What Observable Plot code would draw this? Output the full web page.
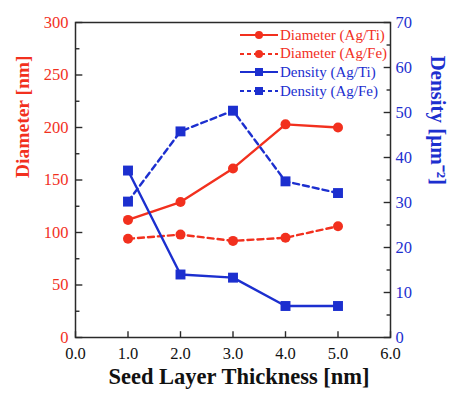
<!DOCTYPE html>
<html><head><meta charset="utf-8">
<script src="https://cdn.jsdelivr.net/npm/d3@7"></script>
<script src="https://cdn.jsdelivr.net/npm/@observablehq/plot@0.6"></script>
<style>
body{margin:0;background:#fff}
#wrap{position:relative;width:449px;height:397px;font-family:"Liberation Serif","Times New Roman",serif}
svg text{font-family:"Liberation Serif","Times New Roman",serif !important}
#legend{position:absolute;left:240px;top:26px;font-size:15px}
#legend div{display:flex;align-items:center;height:18.6px}
#legend svg{margin-right:2px}
</style>
</head><body><div id="wrap"><div id="legend"></div></div>
<script>
const thickness = [1, 2, 3, 4, 5];
const diamTi = [112, 129, 161, 203, 200];
const diamFe = [94, 98, 92, 95, 106];
const densTi = [37.1, 14, 13.3, 7, 7];
const densFe = [30.2, 45.8, 50.4, 34.7, 32.1];
const xTicks = [0, 1, 2, 3, 4, 5, 6];
const leftTicks = [0, 50, 100, 150, 200, 250, 300];
const leftMinor = [25, 75, 125, 175, 225, 275];
const rightTicks = [0, 10, 20, 30, 40, 50, 60, 70];
const rightMinor = [5, 15, 25, 35, 45, 55, 65];
const seriesNames = ["Diameter (Ag/Ti)", "Diameter (Ag/Fe)", "Density (Ag/Ti)", "Density (Ag/Fe)"];

const RED = "#f2301e", BLUE = "#1c2fcf", AX = "#2a2a2a";
const k = 300 / 70;
const font = '"Liberation Serif","Times New Roman",serif';

const series = [
  {name: seriesNames[0], vals: diamTi, scale: 1, color: RED, dash: null, sym: "circle"},
  {name: seriesNames[1], vals: diamFe, scale: 1, color: RED, dash: "6,4", sym: "circle"},
  {name: seriesNames[2], vals: densTi, scale: k, color: BLUE, dash: null, sym: "square"},
  {name: seriesNames[3], vals: densFe, scale: k, color: BLUE, dash: "6,4", sym: "square"}
];

const marks = [];
for (const s of series) {
  const data = thickness.map((t, i) => ({x: t, y: s.vals[i] * s.scale}));
  marks.push(Plot.line(data, {x: "x", y: "y", stroke: s.color, strokeWidth: 2.4, strokeDasharray: s.dash}));
  marks.push(Plot.dot(data, {x: "x", y: "y", fill: s.color, stroke: "none", symbol: s.sym, r: s.sym === "circle" ? 5 : 5.6}));
}

// inward tick lengths, in data units
const tx = 0.13, txm = 0.075, ty = 6;
const xt = xTicks.map(v => ({v}));
const lt = leftTicks.map(v => ({v})), lm = leftMinor.map(v => ({v}));
const rt = rightTicks.map(v => ({v: v * k})), rm = rightMinor.map(v => ({v: v * k}));

const chart = Plot.plot({
  width: 449, height: 397,
  marginLeft: 75, marginRight: 59, marginTop: 22, marginBottom: 60,
  style: {fontFamily: font, background: "transparent"},
  x: {domain: [0, 6]},
  y: {domain: [0, 300]},
  marks: [
    ...marks,
    // inward ticks
    Plot.link(xt, {x1: "v", x2: "v", y1: () => 0, y2: () => ty, stroke: AX, strokeWidth: 1.4}),
    Plot.link(lt, {y1: "v", y2: "v", x1: () => 0, x2: () => tx, stroke: AX, strokeWidth: 1.4}),
    Plot.link(lm, {y1: "v", y2: "v", x1: () => 0, x2: () => txm, stroke: AX, strokeWidth: 1.4}),
    Plot.link(rt, {y1: "v", y2: "v", x1: () => 6 - tx, x2: () => 6, stroke: AX, strokeWidth: 1.4}),
    Plot.link(rm, {y1: "v", y2: "v", x1: () => 6 - txm, x2: () => 6, stroke: AX, strokeWidth: 1.4}),
    Plot.frame({stroke: AX, strokeWidth: 1.5}),
    // bottom axis
    Plot.axisX(xTicks, {tickSize: 0, tickPadding: 10, tickFormat: d => d.toFixed(1), fontSize: 16.5, fontFamily: font, fill: "#111", label: null}),
    // left axis
    Plot.axisY(leftTicks, {anchor: "left", tickSize: 0, tickPadding: 7, fontSize: 16.5, fontFamily: font, fill: RED, label: null}),
    // right axis
    Plot.axisY(rightTicks.map(v => v * k), {anchor: "right", tickSize: 0, tickPadding: 5, fontSize: 16.5, fontFamily: font, fill: BLUE, tickFormat: v => Math.round(v / k), label: null}),
    // axis titles
    Plot.text(["Seed Layer Thickness [nm]"], {frameAnchor: "bottom", dx: 6, dy: 46, fill: "#111", fontSize: 22.5, fontWeight: "bold", fontFamily: font}),
    Plot.text(["Diameter [nm]"], {frameAnchor: "left", dx: -53, dy: -2, rotate: -90, fill: RED, fontSize: 19.5, fontWeight: "bold", fontFamily: font}),
    Plot.text(["Density [μm⁻²]"], {frameAnchor: "right", dx: 47, dy: 5, rotate: 90, fill: BLUE, fontSize: 21, fontWeight: "bold", fontFamily: font})
  ]
});
chart.style.position = "absolute";
chart.style.left = "0"; chart.style.top = "0";
const wrap = document.getElementById("wrap");
wrap.insertBefore(chart, wrap.firstChild);

const legend = document.getElementById("legend");
for (const s of series) {
  const row = document.createElement("div");
  const sym = s.sym === "circle"
    ? `<circle cx="19" cy="6" r="4" fill="${s.color}"/>`
    : `<rect x="15" y="2" width="8" height="8" fill="${s.color}"/>`;
  row.innerHTML = `<svg width="38" height="12"><line x1="0" y1="6" x2="38" y2="6" stroke="${s.color}" stroke-width="2.2" ${s.dash ? `stroke-dasharray="4,3"` : ""}/>${sym}</svg><span style="color:${s.color}">${s.name}</span>`;
  legend.appendChild(row);
}
</script>
</body></html>
